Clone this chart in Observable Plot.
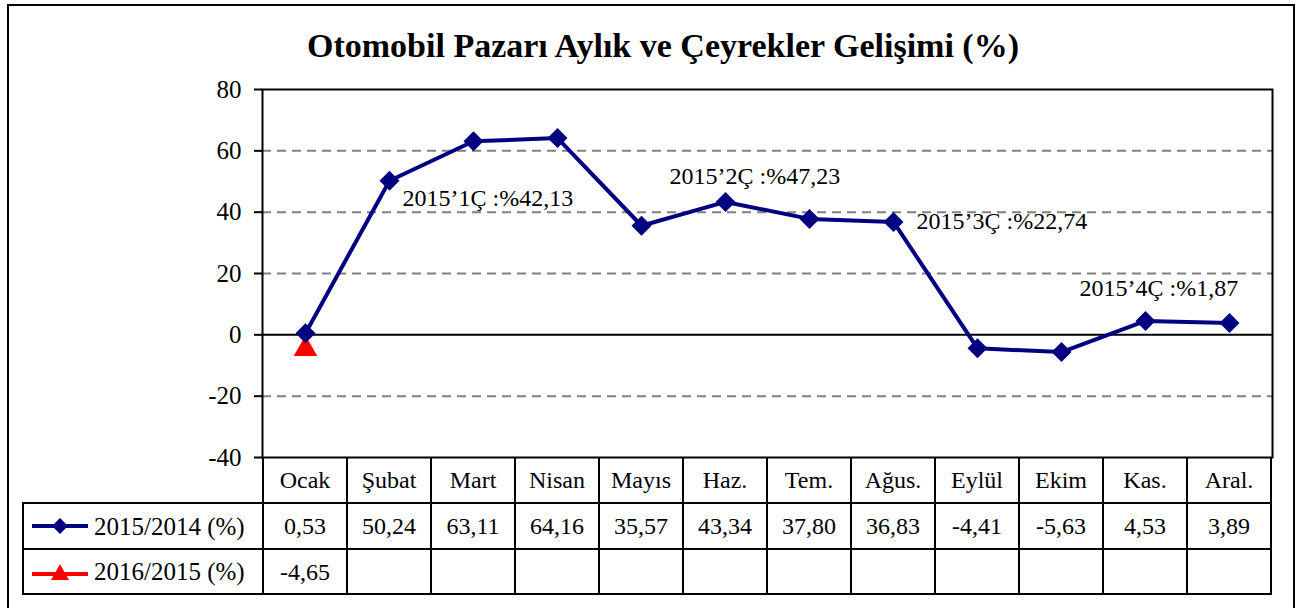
<!DOCTYPE html>
<html>
<head>
<meta charset="utf-8">
<script src="https://cdn.jsdelivr.net/npm/d3@7"></script>
<script src="https://cdn.jsdelivr.net/npm/@observablehq/plot@0.6"></script>
<style>
  html, body { margin: 0; padding: 0; background: #fff; }
  #wrap { position: relative; width: 1301px; height: 608px; overflow: hidden;
          font-family: "Liberation Serif", "Times New Roman", serif; color: #000; }
  #outer { position: absolute; left: 7px; top: 4px; width: 1288px; height: 640px;
           border: 2px solid #000; box-sizing: border-box; }
  #title { position: absolute; top: 29px; left: 663px; transform: translateX(-50%);
           white-space: nowrap; font-weight: bold; font-size: 34px; line-height: 34px; }
  #chart { position: absolute; left: 0; top: 0; }
  #chart svg text { font-family: "Liberation Serif", "Times New Roman", serif; }
  .hl, .vl { position: absolute; background: #000; }
  .cell { position: absolute; display: flex; align-items: center; justify-content: center;
          font-size: 24px; line-height: 24px; white-space: nowrap; }
  .lab { position: absolute; display: flex; align-items: center; font-size: 25px; line-height: 25px; white-space: nowrap; }
</style>
</head>
<body>
<div id="wrap">
  <div id="outer"></div>
  <div id="title">Otomobil Pazarı Aylık ve Çeyrekler Gelişimi (%)</div>
  <div id="chart"></div>
</div>
<script>
// ---- data ----
const months = ["Ocak", "Şubat", "Mart", "Nisan", "Mayıs", "Haz.", "Tem.", "Ağus.", "Eylül", "Ekim", "Kas.", "Aral."];
const values2015 = [0.53, 50.24, 63.11, 64.16, 35.57, 43.34, 37.80, 36.83, -4.41, -5.63, 4.53, 3.89];
const values2016 = [-4.65];
const seriesNames = ["2015/2014 (%)", "2016/2015 (%)"];
const yTicks = [-40, -20, 0, 20, 40, 60, 80];
const gridValues = [-20, 20, 40, 60];
const noteTexts = ["2015’1Ç :%42,13", "2015’2Ç :%47,23", "2015’3Ç :%22,74", "2015’4Ç :%1,87"];
const noteMonths = ["Şubat", "Haz.", "Ağus.", "Kas."];
const noteLevels = [44.4, 51.6, 37.0, 15.1];

// ---- styling ----
const NAVY = "#000080", RED = "#ff0000";
const noteDx = [13, -56, 23, -66];

const line2015 = months.map((m, i) => ({month: m, value: values2015[i]}));
const line2016 = values2016.map((v, i) => ({month: months[i], value: v}));
const notes = noteTexts.map((t, i) => ({text: t, month: noteMonths[i], y: noteLevels[i], dx: noteDx[i]}));

const plot = Plot.plot({
  width: 1301,
  height: 460,
  marginLeft: 262,
  marginRight: 29,
  marginTop: 89,
  marginBottom: 3,
  style: {fontFamily: "'Liberation Serif', 'Times New Roman', serif", fontSize: "24px", color: "#000", background: "transparent", overflow: "visible"},
  x: {type: "band", domain: months, padding: 0, axis: null},
  y: {domain: [-40, 80], axis: null},
  marks: [
    Plot.ruleY(gridValues, {stroke: "#808080", strokeWidth: 2, strokeDasharray: "9,6"}),
    Plot.ruleY([0], {stroke: "#000", strokeWidth: 2}),
    Plot.frame({stroke: "#000", strokeWidth: 2}),
    Plot.axisY({ticks: yTicks, tickSize: 8, tickPadding: 13, strokeWidth: 2, fontSize: 25,
                tickFormat: d => String(d)}),
    Plot.line(line2015, {x: "month", y: "value", stroke: NAVY, strokeWidth: 4}),
    Plot.dot(line2016, {x: "month", y: "value", symbol: "triangle", r: 8.8, fill: RED}),
    Plot.dot(line2015, {x: "month", y: "value", symbol: "diamond2", r: 9, fill: NAVY}),
    ...notes.map(n => Plot.text([n], {x: "month", y: "y", text: "text", textAnchor: "start", dx: n.dx, fontSize: 24, fill: "#000"}))
  ]
});
document.getElementById("chart").appendChild(plot);

// ---- data table (columns follow the plot's x band scale) ----
const xs = plot.scale("x");
const bw = xs.bandwidth;
const colLeft = m => xs.apply(m);
const tableTop = 457, rowH = [46, 46, 45];
const rowTops = [tableTop, tableTop + rowH[0], tableTop + rowH[0] + rowH[1]];
const tableBottom = rowTops[2] + rowH[2];
const labelLeft = 23;
const right = colLeft(months[months.length - 1]) + bw;
const wrap = document.getElementById("wrap");
function add(cls, css, html) {
  const d = document.createElement("div");
  d.className = cls;
  Object.assign(d.style, css);
  if (html != null) d.innerHTML = html;
  wrap.appendChild(d);
  return d;
}
// horizontal lines
[rowTops[1], rowTops[2], tableBottom].forEach(y =>
  add("hl", {left: labelLeft - 1 + "px", top: y - 1 + "px", width: right - labelLeft + 2 + "px", height: "2px"}));
// vertical lines
months.forEach(m => add("vl", {left: colLeft(m) - 1 + "px", top: tableTop + "px", width: "2px", height: tableBottom - tableTop + 1 + "px"}));
add("vl", {left: right - 1 + "px", top: tableTop + "px", width: "2px", height: tableBottom - tableTop + 1 + "px"});
add("vl", {left: labelLeft - 1 + "px", top: rowTops[1] - 1 + "px", width: "2px", height: tableBottom - rowTops[1] + 2 + "px"});

const fmt = v => v.toFixed(2).replace(".", ",");
months.forEach((m, i) => {
  add("cell", {left: colLeft(m) + "px", top: rowTops[0] + "px", width: bw + "px", height: rowH[0] + "px"}, m);
  add("cell", {left: colLeft(m) + "px", top: rowTops[1] + "px", width: bw + "px", height: rowH[1] + "px"}, fmt(values2015[i]));
  if (i < values2016.length)
    add("cell", {left: colLeft(m) + "px", top: rowTops[2] + "px", width: bw + "px", height: rowH[2] + "px"}, fmt(values2016[i]));
});
// legend labels with key icons
const icons = [
  `<svg width="58" height="22" style="margin-right:5px"><line x1="1" y1="11" x2="57" y2="11" stroke="${NAVY}" stroke-width="4"/><path d="M29,3 L37,11 L29,19 L21,11 Z" fill="${NAVY}"/></svg>`,
  `<svg width="58" height="22" style="margin-right:5px"><line x1="1" y1="13" x2="57" y2="13" stroke="${RED}" stroke-width="4"/><path d="M29,3 L38,19 L20,19 Z" fill="${RED}"/></svg>`
];
seriesNames.forEach((name, k) => {
  add("lab", {left: labelLeft + 8 + "px", top: rowTops[k + 1] + "px", height: rowH[k + 1] + "px"}, icons[k] + `<span>${name}</span>`);
});
</script>
</body>
</html>
